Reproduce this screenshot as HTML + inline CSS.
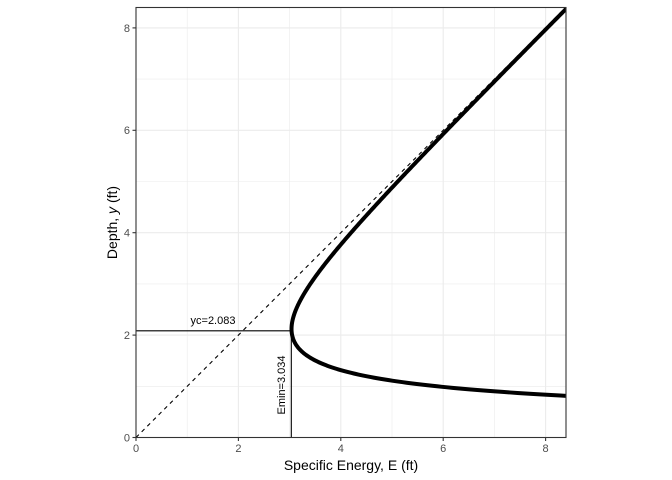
<!DOCTYPE html>
<html><head><meta charset="utf-8"><style>
html,body{margin:0;padding:0;background:#fff;}
svg{display:block;font-family:"Liberation Sans",Arial,sans-serif;}
</style></head><body>
<svg id="s" width="672" height="480" viewBox="0 0 672 480">
<rect width="672" height="480" fill="#fff"/>
<g stroke="#ebebeb" stroke-width="0.6">
<line x1="187.2" y1="7.5" x2="187.2" y2="437.5"/><line x1="289.6" y1="7.5" x2="289.6" y2="437.5"/>
<line x1="392" y1="7.5" x2="392" y2="437.5"/><line x1="494.4" y1="7.5" x2="494.4" y2="437.5"/>
<line x1="136" y1="386.3" x2="566" y2="386.3"/><line x1="136" y1="283.9" x2="566" y2="283.9"/>
<line x1="136" y1="181.5" x2="566" y2="181.5"/><line x1="136" y1="79.1" x2="566" y2="79.1"/>
</g>
<g stroke="#ebebeb" stroke-width="1.1">
<line x1="238.4" y1="7.5" x2="238.4" y2="437.5"/><line x1="340.8" y1="7.5" x2="340.8" y2="437.5"/>
<line x1="443.2" y1="7.5" x2="443.2" y2="437.5"/><line x1="545.6" y1="7.5" x2="545.6" y2="437.5"/>
<line x1="136" y1="335.1" x2="566" y2="335.1"/><line x1="136" y1="232.7" x2="566" y2="232.7"/>
<line x1="136" y1="130.3" x2="566" y2="130.3"/><line x1="136" y1="27.9" x2="566" y2="27.9"/>
</g>
<defs><clipPath id="c"><rect x="136" y="7.5" width="430" height="430"/></clipPath></defs>
<g clip-path="url(#c)">
<line x1="136" y1="437.5" x2="566" y2="7.5" stroke="#000" stroke-width="1.1" stroke-dasharray="4,4"/>
<path id="curve" d="" fill="none" stroke="#000" stroke-width="4"/>
</g>
<line x1="136" y1="330.8" x2="291.3" y2="330.8" stroke="#000" stroke-width="1.1"/>
<line x1="291.3" y1="330.8" x2="291.3" y2="437.5" stroke="#000" stroke-width="1.1"/>
<text x="213" y="324" font-size="11" text-anchor="middle">yc=2.083</text>
<text transform="translate(285,385) rotate(-90)" font-size="11" text-anchor="middle">Emin=3.034</text>
<rect x="136" y="7.5" width="430" height="430" fill="none" stroke="#333" stroke-width="1.1"/>
<g stroke="#333" stroke-width="1.1">
<line x1="136" y1="437.5" x2="136" y2="441"/><line x1="238.4" y1="437.5" x2="238.4" y2="441"/>
<line x1="340.8" y1="437.5" x2="340.8" y2="441"/><line x1="443.2" y1="437.5" x2="443.2" y2="441"/>
<line x1="545.6" y1="437.5" x2="545.6" y2="441"/>
<line x1="132.5" y1="437.5" x2="136" y2="437.5"/><line x1="132.5" y1="335.1" x2="136" y2="335.1"/>
<line x1="132.5" y1="232.7" x2="136" y2="232.7"/><line x1="132.5" y1="130.3" x2="136" y2="130.3"/>
<line x1="132.5" y1="27.9" x2="136" y2="27.9"/>
</g>
<g font-size="11" fill="#4d4d4d" text-anchor="middle">
<text x="136" y="452">0</text><text x="238.4" y="452">2</text><text x="340.8" y="452">4</text>
<text x="443.2" y="452">6</text><text x="545.6" y="452">8</text>
</g>
<g font-size="11" fill="#4d4d4d" text-anchor="end">
<text x="130" y="441.5">0</text><text x="130" y="339">2</text><text x="130" y="236.6">4</text>
<text x="130" y="134.2">6</text><text x="130" y="31.8">8</text>
</g>
<text x="351" y="470" font-size="14" text-anchor="middle">Specific Energy, E (ft)</text>
<text transform="translate(117,222.5) rotate(-90)" font-size="14" text-anchor="middle">Depth, <tspan font-style="italic">y</tspan> (ft)</text>
</svg>
<script>
(function(){
var d="",C=5.745,b=1,z=0.085,first=true;
for(var y=0.72;y<=8.6;y+=0.01){
var A=y*(b+z*y);
var E=y+C/(A*A);
var px=136+51.2*E, py=437.5-51.2*y;
d+=(first?"M":"L")+px.toFixed(2)+","+py.toFixed(2);
first=false;
}
document.getElementById("curve").setAttribute("d",d);
})();
</script>
</body></html>
